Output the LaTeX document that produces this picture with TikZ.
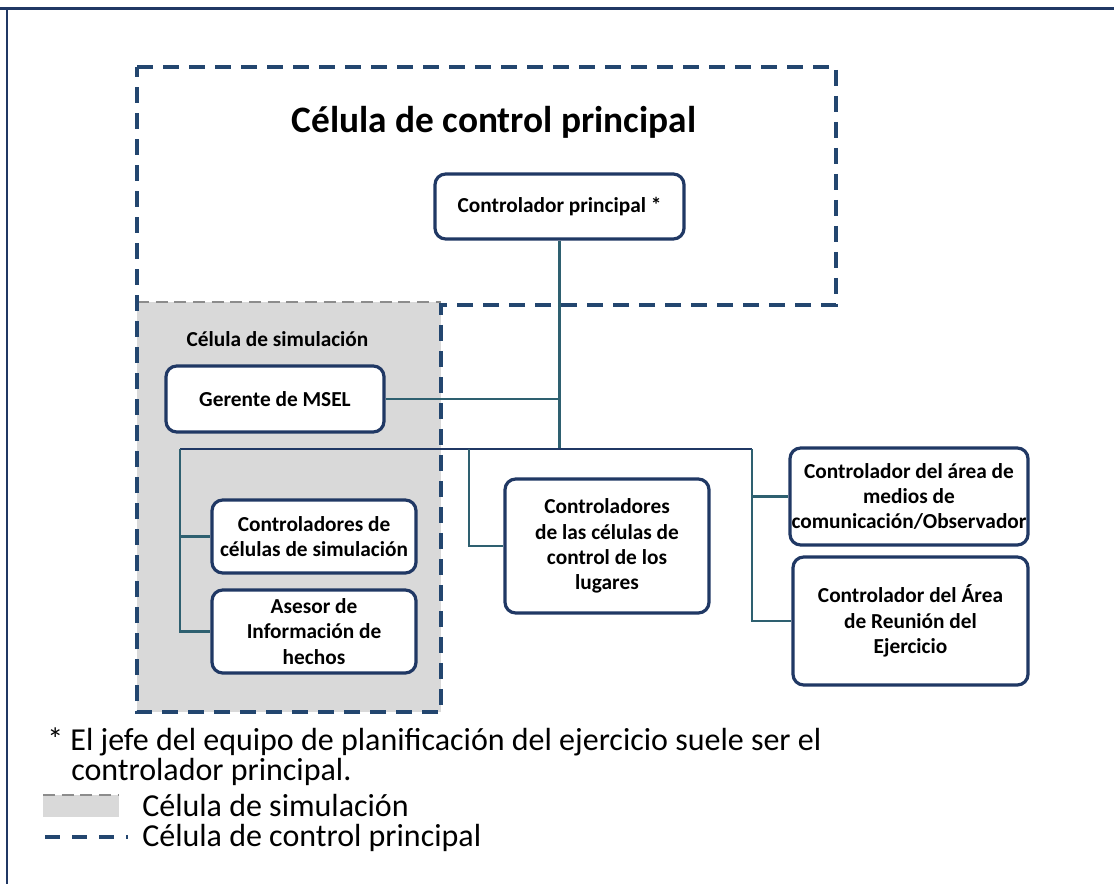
\documentclass[tikz,border=0pt]{standalone}
\usepackage{fontspec}
\setmainfont{Carlito}
\usetikzlibrary{positioning, calc}

\definecolor{boxblue}{HTML}{203864}
\definecolor{dashblue}{HTML}{23466F}
\definecolor{linkteal}{HTML}{2E6070}
\definecolor{simgray}{HTML}{D9D9D9}
\definecolor{simedge}{HTML}{8C8C8C}

\begin{document}
\begin{tikzpicture}[x=0.75pt, y=-0.75pt,
        every node/.style={font=\fontsize{16}{19}\selectfont\bfseries},
        role/.style={draw=boxblue, line width=2.4pt, rounded corners=8pt, fill=white, align=center, inner sep=1pt},
        link/.style={draw=linkteal, line width=2pt},
        bus/.style={draw=boxblue, line width=2pt},
        cellline/.style={draw=dashblue, line width=2.6pt, dash pattern=on 12pt off 7.5pt},
        simline/.style={draw=simedge, line width=1.6pt, dash pattern=on 9pt off 5pt},
        note/.style={anchor=west, inner sep=0pt, font=\fontsize{24}{28}\selectfont}]
      \useasboundingbox (0,0) rectangle (1114,884);

      % Page frame
      \draw[boxblue, line width=2.4pt] (0,8.5) -- (1114,8.5);
      \draw[boxblue, line width=1.6pt] (7,8.5) -- (7,884);

      % Simulation cell (grey) and main control cell (dashed)
      \fill[simgray] (137,302) rectangle (441,712);
      \draw[simline] (137,302) -- (441,302);
      \draw[cellline] (137,67) -- (836,67) -- (836,305) -- (441,305) -- (441,712) -- (137,712) -- cycle;

      \node (title) at (494,122) {\fontsize{28}{34}\selectfont Célula de control principal};
      \node (simlabel) at (277.5,339) {Célula de simulación};

      % Roles
      \node[role, minimum width=186.75pt, minimum height=48.75pt] (principal) at (559.5,206.5) {Controlador principal *};
      \node[role, minimum width=163.5pt, minimum height=49.5pt] (gerente) at (275,399) {Gerente de MSEL};
      \node[role, minimum width=153pt, minimum height=54.75pt] (simctl) at (314,536.5) {Controladores de\\células de simulación};
      \node[role, minimum width=153pt, minimum height=62.25pt] (asesor) at (314,631.5) {Asesor de\\Información de\\hechos};
      \node[role, minimum width=153pt, minimum height=100.5pt] (lugares) at (607,546) {Controladores\\de las células de\\control de los\\lugares};
      \node[role, minimum width=178.5pt, minimum height=72.75pt, inner sep=0pt] (medios) at (909,496.5) {Controlador del área de\\medios de\\comunicación/Observador};
      \node[role, minimum width=176.25pt, minimum height=96pt] (reunion) at (910.5,621) {Controlador del Área\\de Reunión del\\Ejercicio};

      % Connectors
      \coordinate (busL) at (180,449);
      \coordinate (busR) at (752,449);
      \coordinate (busM) at (469,449);
      \draw[link] (principal) -- (principal |- busL);
      \draw[link] (gerente) -- (gerente -| principal);
      \draw[bus] (busL) -- (busR);
      \draw[link] (busL) |- (simctl.west);
      \draw[link] (busL) |- (asesor.west);
      \draw[link] (busM) |- (lugares.west);
      \draw[link] (busR) |- (medios.west);
      \draw[link] (busR) |- (reunion.west);

      % Footnote and legend
      \node[note] (foot1) at (47,742) {* El jefe del equipo de planificación del ejercicio suele ser el};
      \node[note] (foot2) at (71,772) {controlador principal.};
      \fill[simgray] (43,795) rectangle (119,817);
      \draw[simline] (43,795) -- (119,795);
      \node[note] (legsim) at (142,806) {Célula de simulación};
      \coordinate (legA) at (45,837);
      \coordinate (legB) at (128,837);
      \draw[cellline, dash pattern=on 11.25pt off 9pt] (legA) -- (legB);
      \node[note] (legctl) at (142,838) {Célula de control principal};
\end{tikzpicture}
\end{document}
